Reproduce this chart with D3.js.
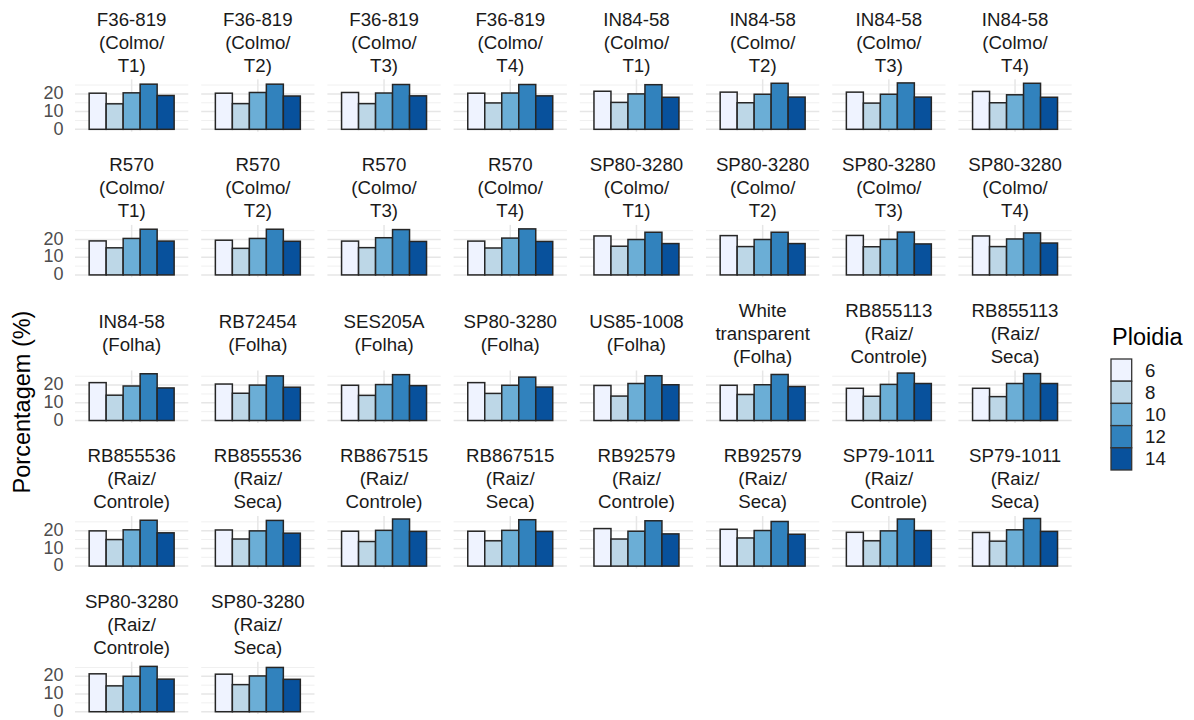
<!DOCTYPE html>
<html>
<head>
<meta charset="utf-8">
<script src="https://cdn.jsdelivr.net/npm/d3@7"></script>
<style>
  html, body { margin: 0; padding: 0; background: #ffffff; }
  svg { display: block; font-family: "Liberation Sans", Arial, sans-serif; }
</style>
</head>
<body>
<svg id="chart" width="1194" height="720"></svg>
<script>
// Facet labels (one panel per sample), in reading order
const panels = [
  "F36-819\n(Colmo/\nT1)", "F36-819\n(Colmo/\nT2)", "F36-819\n(Colmo/\nT3)", "F36-819\n(Colmo/\nT4)",
  "IN84-58\n(Colmo/\nT1)", "IN84-58\n(Colmo/\nT2)", "IN84-58\n(Colmo/\nT3)", "IN84-58\n(Colmo/\nT4)",
  "R570\n(Colmo/\nT1)", "R570\n(Colmo/\nT2)", "R570\n(Colmo/\nT3)", "R570\n(Colmo/\nT4)",
  "SP80-3280\n(Colmo/\nT1)", "SP80-3280\n(Colmo/\nT2)", "SP80-3280\n(Colmo/\nT3)", "SP80-3280\n(Colmo/\nT4)",
  "IN84-58\n(Folha)", "RB72454\n(Folha)", "SES205A\n(Folha)", "SP80-3280\n(Folha)",
  "US85-1008\n(Folha)", "White\ntransparent\n(Folha)", "RB855113\n(Raiz/\nControle)", "RB855113\n(Raiz/\nSeca)",
  "RB855536\n(Raiz/\nControle)", "RB855536\n(Raiz/\nSeca)", "RB867515\n(Raiz/\nControle)", "RB867515\n(Raiz/\nSeca)",
  "RB92579\n(Raiz/\nControle)", "RB92579\n(Raiz/\nSeca)", "SP79-1011\n(Raiz/\nControle)", "SP79-1011\n(Raiz/\nSeca)",
  "SP80-3280\n(Raiz/\nControle)", "SP80-3280\n(Raiz/\nSeca)"
];

// Ploidy levels (legend order)
const ploidy = ["6", "8", "10", "12", "14"];

// Percentage of each ploidy level per panel (same order as panels)
const pct6 = [
  20.4, 20.4, 20.8, 20.4, 21.5, 21.0, 21.0, 21.4,
  19.2, 19.6, 19.1, 19.1, 22.0, 22.2, 22.3, 22.0,
  21.4, 20.6, 19.9, 21.4, 19.8, 19.9, 18.2, 18.2,
  19.9, 20.4, 19.7, 19.7, 21.2, 20.8, 19.1, 19.0,
  21.4, 21.2
];
const pct8 = [
  14.4, 14.5, 14.5, 14.9, 15.2, 15.0, 14.8, 15.0,
  15.3, 15.0, 15.4, 15.2, 16.2, 16.0, 15.9, 16.0,
  14.3, 15.4, 14.2, 15.3, 13.8, 14.7, 13.7, 13.5,
  15.0, 15.3, 13.9, 14.3, 15.3, 15.9, 14.3, 14.1,
  14.6, 15.3
];
const pct10 = [
  20.6, 20.8, 20.5, 20.5, 20.0, 19.8, 19.8, 19.5,
  20.6, 20.6, 21.0, 20.8, 20.0, 20.0, 20.1, 20.3,
  19.5, 20.0, 20.3, 19.9, 20.9, 20.2, 20.4, 20.9,
  20.5, 19.9, 20.2, 20.2, 19.7, 20.1, 19.9, 20.5,
  20.0, 20.2
];
const pct12 = [
  25.5, 25.5, 25.3, 25.3, 25.2, 26.0, 26.2, 26.0,
  25.8, 25.8, 25.6, 26.0, 24.1, 24.1, 24.2, 23.7,
  26.4, 25.2, 25.9, 24.5, 25.3, 26.0, 26.8, 26.5,
  25.9, 25.8, 26.6, 26.2, 25.6, 25.2, 26.6, 26.9,
  25.6, 25.0
];
const pct14 = [
  19.1, 18.8, 18.9, 18.9, 18.1, 18.2, 18.2, 18.1,
  19.1, 19.0, 18.9, 18.9, 17.7, 17.7, 17.5, 18.0,
  18.4, 18.8, 19.7, 18.9, 20.2, 19.2, 20.9, 20.9,
  18.8, 18.6, 19.6, 19.6, 18.2, 18.0, 20.1, 19.6,
  18.4, 18.3
];

const yTicks = [0, 10, 20];
const yMinorTicks = [5, 15, 25];
const palette = ["#eff3ff", "#bdd7e7", "#6baed6", "#3182bd", "#08519c"];

const series = [pct6, pct8, pct10, pct12, pct14];
const data = panels.map((label, i) => ({
  label,
  values: ploidy.map((p, k) => ({ ploidy: p, value: series[k][i] }))
}));

// ---- layout ----
const nCols = 8;
const panelW = 113.3, panelH = 52.4;
const colStep = 126.2, rowStep = 145.6;
const left0 = 75, top0 = 79.3;

const svg = d3.select("#chart");

const yMax = d3.max(series, s => d3.max(s));
const yPad = yMax * 0.05;
const y = d3.scaleLinear().domain([-yPad, yMax + yPad]).range([panelH, 0]);
const x = d3.scaleBand().domain(ploidy).range([panelW * 0.125, panelW * 0.875]).padding(0);
const color = d3.scaleOrdinal().domain(ploidy).range(palette);

const panel = svg.selectAll("g.panel")
  .data(data)
  .join("g")
  .attr("class", "panel")
  .attr("transform", (d, i) => `translate(${left0 + (i % nCols) * colStep},${top0 + Math.floor(i / nCols) * rowStep})`);

// grid lines
panel.each(function () {
  const g = d3.select(this);
  g.selectAll("line.minor").data(yMinorTicks).join("line")
    .attr("x1", 0).attr("x2", panelW)
    .attr("y1", d => y(d)).attr("y2", d => y(d))
    .attr("stroke", "#f0f0f0").attr("stroke-width", 1);
  g.selectAll("line.major").data(yTicks).join("line")
    .attr("x1", 0).attr("x2", panelW)
    .attr("y1", d => y(d)).attr("y2", d => y(d))
    .attr("stroke", "#e6e6e6").attr("stroke-width", 1.5);
  g.append("line")
    .attr("x1", panelW / 2).attr("x2", panelW / 2)
    .attr("y1", 0).attr("y2", panelH)
    .attr("stroke", "#e6e6e6").attr("stroke-width", 1.5);
});

// bars
panel.selectAll("rect.bar")
  .data(d => d.values)
  .join("rect")
  .attr("class", "bar")
  .attr("x", d => x(d.ploidy))
  .attr("width", x.bandwidth())
  .attr("y", d => y(d.value))
  .attr("height", d => y(0) - y(d.value))
  .attr("fill", d => color(d.ploidy))
  .attr("stroke", "#262626")
  .attr("stroke-width", 1.5);

// strip labels
const stripFont = 18.7, lineGap = 23;
panel.each(function (d) {
  const lines = d.label.split("\n");
  const t = d3.select(this).append("text")
    .attr("text-anchor", "middle")
    .attr("font-size", stripFont)
    .attr("fill", "#1a1a1a");
  const center = -37.5;
  lines.forEach((ln, k) => {
    t.append("tspan")
      .attr("x", panelW / 2)
      .attr("y", center + (k - (lines.length - 1) / 2) * lineGap + stripFont * 0.36)
      .text(ln);
  });
});

// y axes on the first column
panel.filter((d, i) => i % nCols === 0).each(function () {
  const g = d3.select(this).append("g").attr("transform", "translate(-11.5,0)");
  g.call(d3.axisLeft(y).tickValues(yTicks).tickSize(0).tickPadding(0))
    .call(a => a.select(".domain").remove());
  g.selectAll("text")
    .attr("dy", "0.26em")
    .attr("font-size", 18)
    .attr("font-family", "Liberation Sans, Arial, sans-serif")
    .attr("fill", "#4d4d4d");
});

// y axis title
svg.append("text")
  .attr("transform", "translate(30,402) rotate(-90)")
  .attr("text-anchor", "middle")
  .attr("font-size", 23.5)
  .attr("fill", "#000")
  .text("Porcentagem (%)");

// legend
const legend = svg.append("g").attr("transform", "translate(1111,359)");
legend.append("text")
  .attr("x", 1).attr("y", -14)
  .attr("font-size", 23.5)
  .attr("fill", "#000")
  .text("Ploidia");
const keyH = 22.2, keyW = 20.7;
const key = legend.selectAll("g.key").data(ploidy).join("g")
  .attr("class", "key")
  .attr("transform", (d, i) => `translate(0,${i * keyH})`);
key.append("rect")
  .attr("width", keyW).attr("height", keyH)
  .attr("fill", d => color(d))
  .attr("stroke", "#333").attr("stroke-width", 1.3);
key.append("text")
  .attr("x", 34).attr("y", keyH / 2 + 6.5)
  .attr("font-size", 18.7)
  .attr("fill", "#1a1a1a")
  .text(d => d);
</script>
</body>
</html>
